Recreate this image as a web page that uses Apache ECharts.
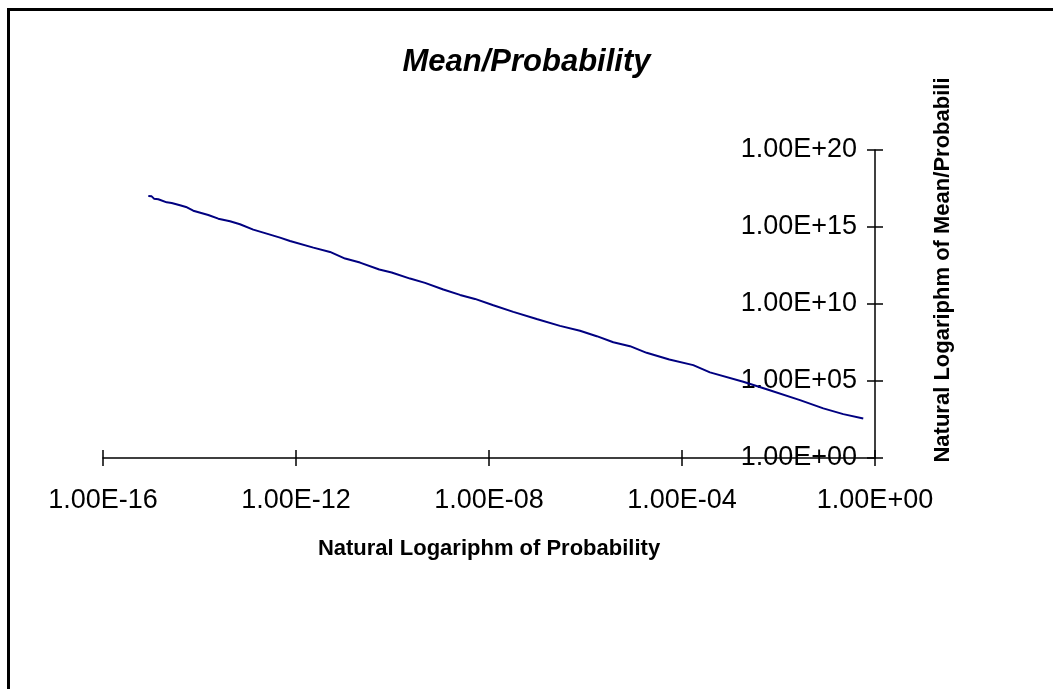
<!DOCTYPE html>
<html>
<head>
<meta charset="utf-8">
<script src="https://cdn.jsdelivr.net/npm/echarts@6/dist/echarts.min.js"></script>
<style>
html,body{margin:0;padding:0;background:#fff;}
#chart{width:1053px;height:689px;}
</style>
</head>
<body>
<div id="chart"></div>
<script>
// Data
const probability = [
  8.69e-16, 1.02e-15, 1.14e-15, 1.40e-15, 2.09e-15, 2.65e-15, 3.94e-15, 5.25e-15,
  7.43e-15, 1.52e-14, 2.45e-14, 4.29e-14, 6.90e-14, 1.30e-13, 2.47e-13, 4.66e-13,
  7.52e-13, 2.29e-12, 5.07e-12, 1.04e-11, 2.12e-11, 5.32e-11, 9.62e-11, 2.31e-10,
  4.72e-10, 1.13e-9, 2.51e-9, 5.13e-9, 1.23e-8, 3.19e-8, 9.72e-8, 2.96e-7,
  7.69e-7, 1.71e-6, 3.77e-6, 8.36e-6, 1.85e-5, 5.46e-5, 1.71e-4, 3.80e-4,
  1.86e-3, 5.69e-3, 2.79e-2, 8.49e-2, 0.220, 0.571
];
const meanOverProbability = [
  1.02e17, 9.77e16, 6.92e16, 6.31e16, 3.98e16, 3.63e16, 2.57e16, 2.00e16,
  1.15e16, 6.03e15, 3.47e15, 2.34e15, 1.51e15, 6.76e14, 3.72e14, 2.04e14,
  1.23e14, 4.57e13, 2.40e13, 8.91e12, 4.90e12, 1.74e12, 1.10e12, 4.47e11,
  2.34e11, 8.71e10, 3.89e10, 2.14e10, 8.32e9, 3.09e9, 1.07e9, 3.80e8,
  1.82e8, 8.13e7, 3.31e7, 1.82e7, 6.76e6, 2.51e6, 1.07e6, 3.63e5,
  8.91e4, 2.88e4, 5.75e3, 1.66e3, 708, 372
];
const titleText = 'Mean/Probability';
const xAxisName = 'Natural Logariphm of Probability';
const yAxisName = 'Natural Logariphm of Mean/Probabili';
const xRange = [1e-16, 1];
const yRange = [1, 1e20];

function sci(v) {
  const e = Math.round(Math.log10(v));
  const sign = e < 0 ? '-' : '+';
  const a = Math.abs(e);
  return '1.00E' + sign + (a < 10 ? '0' + a : '' + a);
}

const FONT = '"Liberation Sans", Arial, sans-serif';
const chart = echarts.init(document.getElementById('chart'), null, {renderer: 'canvas'});

const baseX = {
  type: 'log', logBase: 10, min: xRange[0], max: xRange[1], interval: 4,
  position: 'bottom', splitLine: {show: false}, minorTick: {show: false}
};
const baseY = {
  type: 'log', logBase: 10, min: yRange[0], max: yRange[1], interval: 5,
  position: 'right', splitLine: {show: false}
};

chart.setOption({
  animation: false,
  backgroundColor: '#ffffff',
  title: {
    text: titleText, left: 'center', top: 42,
    textStyle: {fontFamily: FONT, fontSize: 31, fontWeight: 'bold', fontStyle: 'italic', color: '#000'}
  },
  grid: {left: 103, right: 178, top: 150, bottom: 231, containLabel: false},
  xAxis: [
    Object.assign({}, baseX, {
      name: xAxisName, nameLocation: 'middle', nameGap: 80,
      nameTextStyle: {fontFamily: FONT, fontSize: 22, fontWeight: 'bold', color: '#000'},
      axisLine: {show: true, onZero: false, lineStyle: {color: '#000', width: 1.5}},
      axisTick: {show: true, inside: false, length: 8, lineStyle: {color: '#000', width: 1.5}},
      axisLabel: {formatter: sci, margin: 29, fontFamily: FONT, fontSize: 27, color: '#000'}
    }),
    Object.assign({}, baseX, {
      axisLine: {show: false},
      axisTick: {show: true, inside: true, length: 8, lineStyle: {color: '#000', width: 1.5}},
      axisLabel: {show: false}
    })
  ],
  yAxis: [
    Object.assign({}, baseY, {
      axisLine: {show: true, onZero: false, lineStyle: {color: '#000', width: 1.5}},
      axisTick: {show: true, inside: false, length: 8, lineStyle: {color: '#000', width: 1.5}},
      axisLabel: {inside: true, formatter: sci, margin: 18, fontFamily: FONT, fontSize: 27, color: '#000'}
    }),
    Object.assign({}, baseY, {
      axisLine: {show: false},
      axisTick: {show: true, inside: true, length: 8, lineStyle: {color: '#000', width: 1.5}},
      axisLabel: {show: false}
    })
  ],
  graphic: [
    {
      type: 'rect', silent: true, z: 100,
      shape: {x: 8.5, y: 9.5, width: 1200, height: 900},
      style: {fill: null, stroke: '#000', lineWidth: 3}
    },
    {
      type: 'text', silent: true, x: 943, y: 270, rotation: Math.PI / 2,
      style: {text: yAxisName, font: 'bold 22px ' + FONT, fill: '#000', align: 'center', verticalAlign: 'middle'}
    }
  ],
  series: [{
    type: 'line', xAxisIndex: 0, yAxisIndex: 0,
    data: probability.map((p, i) => [p, meanOverProbability[i]]),
    showSymbol: false, smooth: false,
    lineStyle: {color: '#000080', width: 2}
  }]
});
</script>
</body>
</html>
